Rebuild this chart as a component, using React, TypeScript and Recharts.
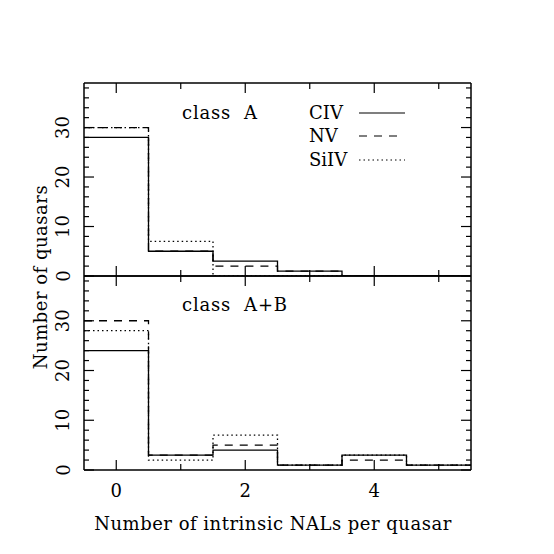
import { Legend, Line, LineChart, XAxis, YAxis } from 'recharts'

// histogram bins (number of intrinsic NALs per quasar)
const bins = [0, 1, 2, 3, 4, 5]
const xTicks = [0, 1, 2, 3, 4, 5]
const yTicks = [0, 2, 4, 6, 8, 10, 12, 14, 16, 18, 20, 22, 24, 26, 28, 30, 32, 34, 36, 38]

const classA_CIV = [28, 5, 3, 1, 0, 0]
const classA_NV = [30, 5, 2, 1, 0, 0]
const classA_SiIV = [30, 7, 0, 0, 0, 0]

const classAB_CIV = [24, 3, 4, 1, 3, 1]
const classAB_NV = [30, 3, 5, 1, 2, 1]
const classAB_SiIV = [28, 2, 7, 1, 3, 1]

const seriesNames = ['CIV', 'NV', 'SiIV']
const dashes: Record<string, string | undefined> = { CIV: undefined, NV: '8 7', SiIV: '1.5 3' }

const FONT = '"DejaVu Serif", serif'
const FS = 18

// step outline: one point per bin edge, last edge repeats last value
function toSteps(civ: number[], nv: number[], siiv: number[]) {
  const rows = bins.map((b, i) => ({ x: b - 0.5, CIV: civ[i], NV: nv[i], SiIV: siiv[i] }))
  const n = bins.length - 1
  rows.push({ x: bins[n] + 0.5, CIV: civ[n], NV: nv[n], SiIV: siiv[n] })
  return rows
}

const topData = toSteps(classA_CIV, classA_NV, classA_SiIV)
const bottomData = toSteps(classAB_CIV, classAB_NV, classAB_SiIV)

const axisLine = { stroke: '#000', strokeWidth: 1.5 }

function BottomTick({ x, y, payload, showLabel }: any) {
  const major = payload.value % 2 === 0
  return (
    <g>
      <line x1={x} y1={y} x2={x} y2={y - (major ? 10 : 6)} stroke="#000" strokeWidth={1.2} />
      {showLabel && major && (
        <text x={x} y={y + 27} textAnchor="middle" fontSize={FS} fontFamily={FONT} fill="#000">
          {payload.value}
        </text>
      )}
    </g>
  )
}

function TopTick({ x, y, payload }: any) {
  const major = payload.value % 2 === 0
  return <line x1={x} y1={y} x2={x} y2={y + (major ? 10 : 6)} stroke="#000" strokeWidth={1.2} />
}

function LeftTick({ x, y, payload }: any) {
  const major = payload.value % 10 === 0
  const tx = x - 21
  return (
    <g>
      <line x1={x} y1={y} x2={x + (major ? 10 : 5)} y2={y} stroke="#000" strokeWidth={1.2} />
      {major && (
        <text
          x={tx}
          y={y}
          transform={`rotate(-90, ${tx}, ${y})`}
          textAnchor="middle"
          dominantBaseline="central"
          fontSize={FS}
          fontFamily={FONT}
          fill="#000"
        >
          {payload.value}
        </text>
      )}
    </g>
  )
}

function RightTick({ x, y, payload }: any) {
  const major = payload.value % 10 === 0
  return <line x1={x} y1={y} x2={x - (major ? 10 : 5)} y2={y} stroke="#000" strokeWidth={1.2} />
}

function LegendBox({ payload }: any) {
  const items = seriesNames.filter((n) => (payload || []).some((p: any) => p.value === n))
  return (
    <div style={{ fontFamily: FONT, fontSize: FS, color: '#000' }}>
      {items.map((name) => (
        <div key={name} style={{ display: 'flex', alignItems: 'center', height: 23.5 }}>
          <span style={{ width: 50, lineHeight: 1 }}>{name}</span>
          <svg width={48} height={4}>
            <line x1={0} y1={2} x2={name === 'NV' ? 42 : 46} y2={2} stroke="#000" strokeWidth={1.2} strokeDasharray={dashes[name]} />
          </svg>
        </div>
      ))}
    </div>
  )
}

function Panel({ data, height, margin, showXLabels, legend }: any) {
  return (
    <LineChart width={554} height={height} data={data} margin={margin}>
      <XAxis
        dataKey="x"
        type="number"
        domain={[-0.5, 5.5]}
        ticks={xTicks}
        interval={0}
        allowDataOverflow
        height={showXLabels ? 40 : 10}
        tickSize={0}
        tickMargin={0}
        axisLine={axisLine}
        tickLine={false}
        tick={(p: any) => <BottomTick {...p} showLabel={showXLabels} />}
      />
      <XAxis
        xAxisId="top"
        orientation="top"
        dataKey="x"
        type="number"
        domain={[-0.5, 5.5]}
        ticks={xTicks}
        interval={0}
        allowDataOverflow
        height={10}
        tickSize={0}
        tickMargin={0}
        axisLine={axisLine}
        tickLine={false}
        tick={TopTick}
      />
      <YAxis
        type="number"
        domain={[0, 39]}
        ticks={yTicks}
        interval={0}
        allowDataOverflow
        width={60}
        tickSize={0}
        tickMargin={0}
        axisLine={axisLine}
        tickLine={false}
        tick={LeftTick}
      />
      <YAxis
        yAxisId="right"
        orientation="right"
        type="number"
        domain={[0, 39]}
        ticks={yTicks}
        interval={0}
        allowDataOverflow
        width={10}
        tickSize={0}
        tickMargin={0}
        axisLine={axisLine}
        tickLine={false}
        tick={RightTick}
      />
      {seriesNames.map((name) => (
        <Line
          key={name}
          type="stepAfter"
          dataKey={name}
          name={name}
          stroke="#000"
          strokeWidth={1.3}
          strokeDasharray={dashes[name]}
          dot={false}
          activeDot={false}
          isAnimationActive={false}
        />
      ))}
      {legend && (
        <Legend
          layout="vertical"
          align="center"
          verticalAlign="middle"
          content={LegendBox}
          wrapperStyle={{ left: 309, top: 101, width: 110 }}
        />
      )}
    </LineChart>
  )
}

export default function App() {
  return (
    <div style={{ position: 'absolute', left: 0, top: 0, width: 554, height: 554, background: '#fff', fontFamily: FONT }}>
      <div style={{ position: 'absolute', left: 0, top: 0 }}>
        <Panel data={topData} height={296} margin={{ top: 73, right: 73, bottom: 10, left: 24 }} showXLabels={false} legend />
      </div>
      <div style={{ position: 'absolute', left: 0, top: 256 }}>
        <Panel data={bottomData} height={298} margin={{ top: 10, right: 73, bottom: 44, left: 24 }} showXLabels />
      </div>
      <div style={{ position: 'absolute', left: 182, top: 102, fontSize: FS, whiteSpace: 'pre', letterSpacing: 0.8 }}>class  A</div>
      <div style={{ position: 'absolute', left: 182, top: 294, fontSize: FS, whiteSpace: 'pre', letterSpacing: 0.8 }}>class  A+B</div>
      <div
        style={{
          position: 'absolute',
          left: 40,
          top: 277,
          fontSize: FS,
          whiteSpace: 'nowrap',
          transform: 'translate(-50%, -50%) rotate(-90deg)',
          letterSpacing: 0.5,
        }}
      >
        Number of quasars
      </div>
      <div
        style={{
          position: 'absolute',
          left: 273,
          top: 523,
          fontSize: FS,
          whiteSpace: 'nowrap',
          transform: 'translate(-50%, -50%)',
          letterSpacing: 0.5,
        }}
      >
        Number of intrinsic NALs per quasar
      </div>
    </div>
  )
}
